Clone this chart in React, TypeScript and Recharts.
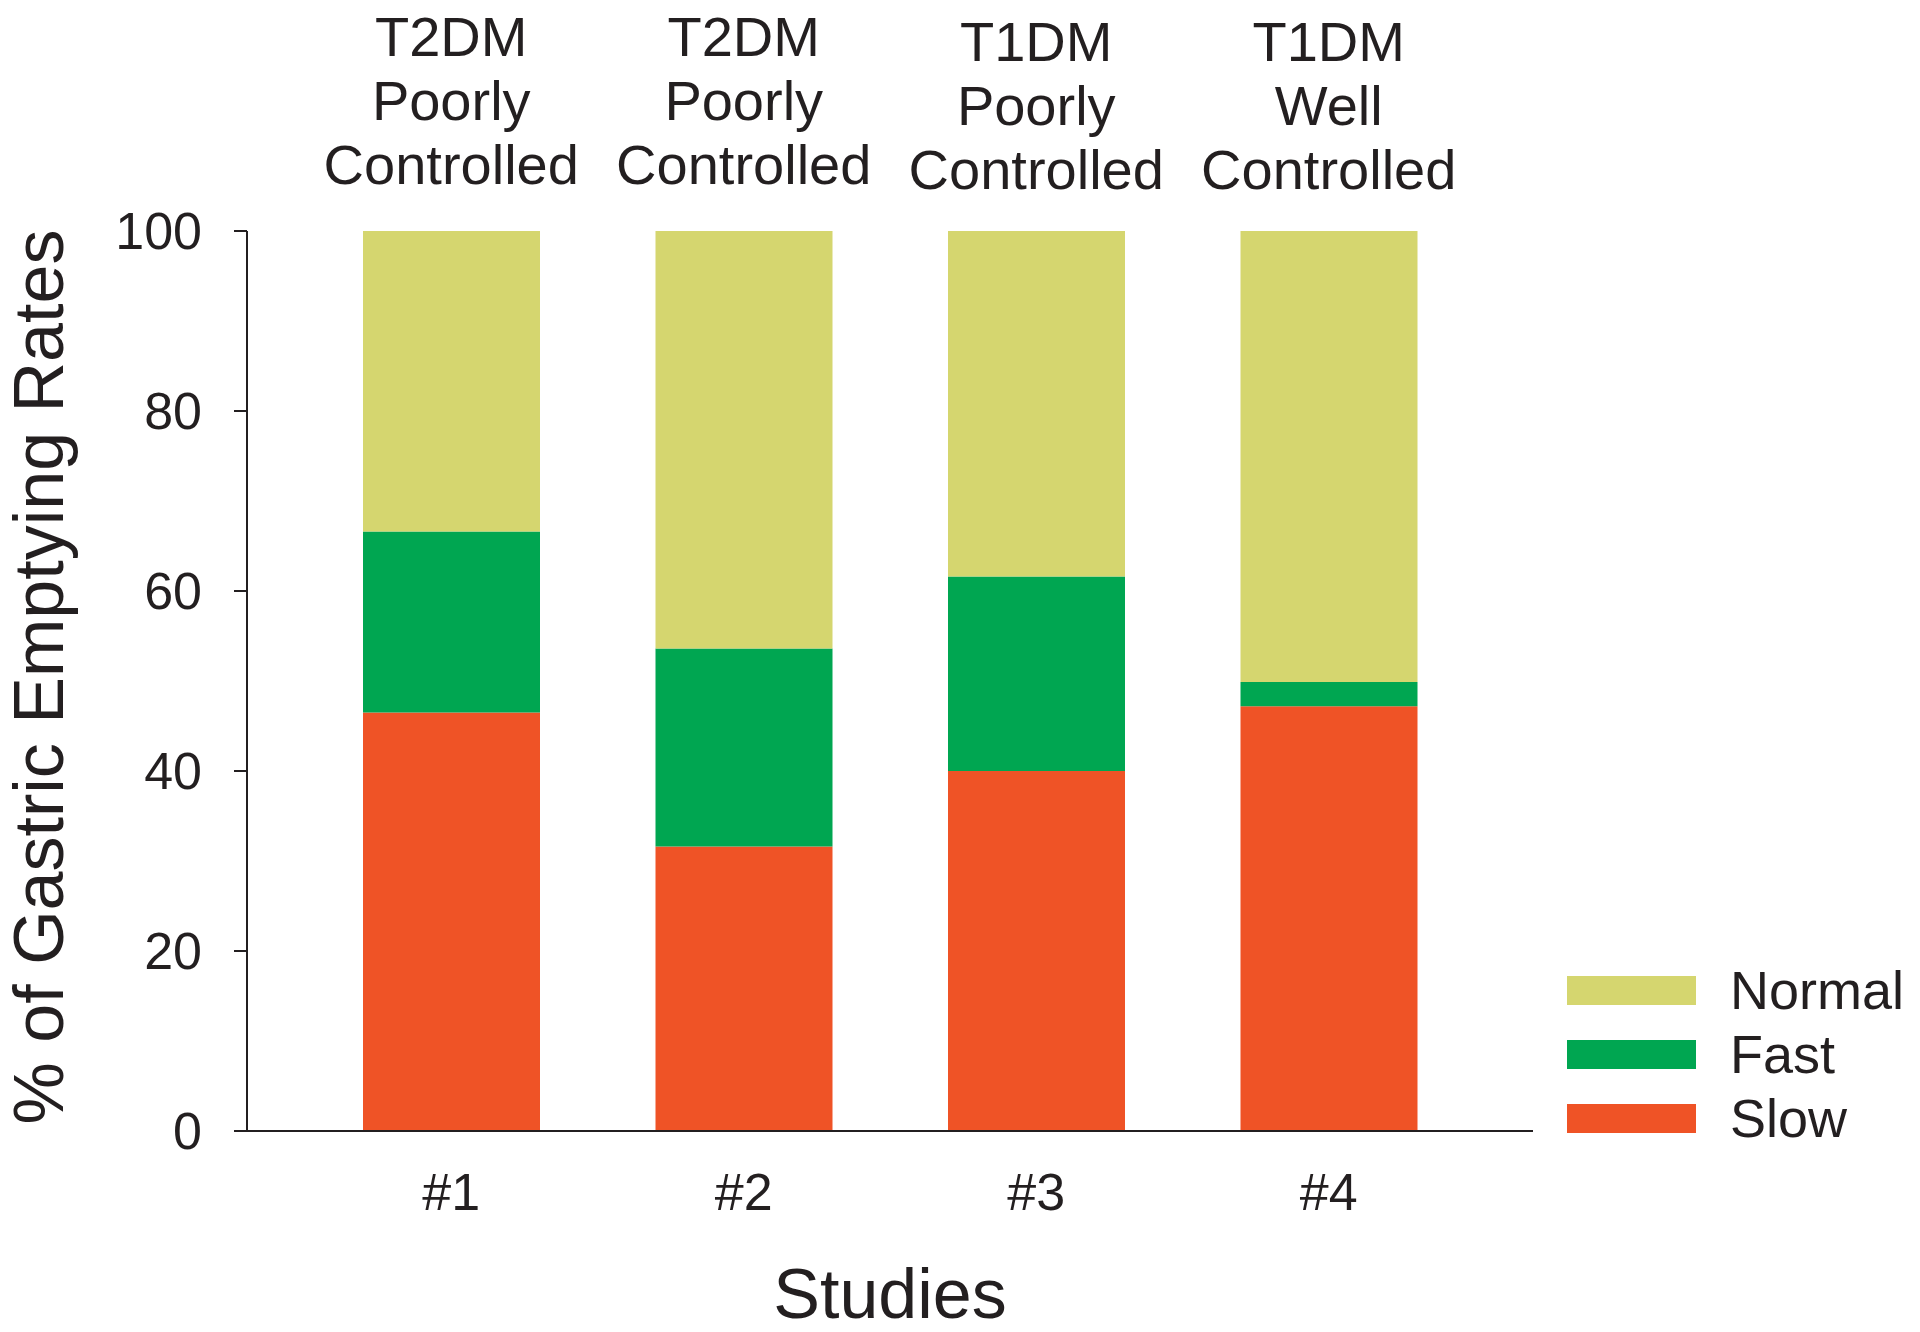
import React from "react";
import { BarChart, Bar, XAxis, YAxis, Legend } from "recharts";

// values, in % of each study
const studies = ["#1", "#2", "#3", "#4"];
const groupLines = [
  ["T2DM", "Poorly", "Controlled"],
  ["T2DM", "Poorly", "Controlled"],
  ["T1DM", "Poorly", "Controlled"],
  ["T1DM", "Well", "Controlled"],
];
const slow = [46.5, 31.6, 40.0, 47.2];
const fast = [20.1, 22.0, 21.6, 2.7];
const normal = [33.4, 46.4, 38.4, 50.1];
const yTicks = [0, 20, 40, 60, 80, 100];

const seriesList = [
  { key: "slow", name: "Slow", color: "#ef5326" },
  { key: "fast", name: "Fast", color: "#00a651" },
  { key: "normal", name: "Normal", color: "#d5d66f" },
];

const data = studies.map((s, i) => ({
  study: s,
  slow: slow[i],
  fast: fast[i],
  normal: normal[i],
}));

const INK = "#231f20";
const FONT = '"Liberation Sans", Arial, sans-serif';

const GroupTick = (props: any) => {
  const { x, y, index } = props;
  const lines = groupLines[index] || [];
  const n = lines.length;
  // the T1DM headers sit a touch lower in the original
  const shift = index >= 2 ? 5 : 0;
  return (
    <g>
      {lines.map((ln, k) => (
        <text
          key={k}
          x={x}
          y={y - 47 + shift - (n - 1 - k) * 64}
          textAnchor="middle"
          fontSize={56}
          fill={INK}
          fontFamily={FONT}
        >
          {ln}
        </text>
      ))}
    </g>
  );
};

const YTitle = (props: any) => {
  const { viewBox } = props;
  const cy = viewBox.y + viewBox.height / 2 - 4;
  const bx = 63;
  return (
    <text
      x={bx}
      y={cy}
      transform={`rotate(-90, ${bx}, ${cy})`}
      textAnchor="middle"
      fontSize={70}
      fill={INK}
      fontFamily={FONT}
    >
      % of Gastric Emptying Rates
    </text>
  );
};

const renderLegend = () => (
  <div style={{ fontFamily: FONT }}>
    {[...seriesList].reverse().map((s) => (
      <div key={s.key} style={{ display: "flex", alignItems: "center", height: 64 }}>
        <div style={{ width: 129, height: 29, background: s.color }} />
        <span style={{ marginLeft: 34, fontSize: 54, color: INK, lineHeight: "64px" }}>{s.name}</span>
      </div>
    ))}
  </div>
);

export default function App() {
  return (
    <div style={{ position: "absolute", left: 0, top: 0, width: 1920, height: 1332, background: "#fff", fontFamily: FONT }}>
      <BarChart
        width={1920}
        height={1332}
        data={data}
        margin={{ top: 0, right: 387, bottom: 0, left: 0 }}
        style={{ fontFamily: FONT }}
      >
        <XAxis
          xAxisId="top"
          orientation="top"
          dataKey="study"
          height={231}
          axisLine={false}
          tickLine={false}
          tickSize={0}
          tickMargin={0}
          padding={{ left: 58, right: 58 }}
          tick={<GroupTick />}
          interval={0}
        />
        <XAxis
          dataKey="study"
          height={201}
          axisLine={{ stroke: INK, strokeWidth: 2 }}
          tickLine={false}
          tickSize={0}
          tickMargin={42}
          padding={{ left: 58, right: 58 }}
          tick={{ fontSize: 52, fill: INK }}
          interval={0}
          label={{ value: "Studies", position: "insideBottom", offset: 14, fontSize: 70, fill: INK }}
        />
        <YAxis
          width={247}
          domain={[0, 100]}
          ticks={yTicks}
          axisLine={{ stroke: INK, strokeWidth: 2 }}
          tickLine={{ stroke: INK, strokeWidth: 2 }}
          tickSize={13}
          tickMargin={32}
          tick={{ fontSize: 52, fill: INK }}
          label={<YTitle />}
        />
        <Legend
          layout="vertical"
          align="center"
          verticalAlign="middle"
          content={renderLegend}
          wrapperStyle={{ position: "absolute", left: 1567, top: 958, width: 350, height: 192 }}
        />
        {seriesList.map((s) => (
          <Bar
            key={s.key}
            dataKey={s.key}
            name={s.name}
            stackId="a"
            fill={s.color}
            barSize={177}
            isAnimationActive={false}
          />
        ))}
      </BarChart>
    </div>
  );
}
